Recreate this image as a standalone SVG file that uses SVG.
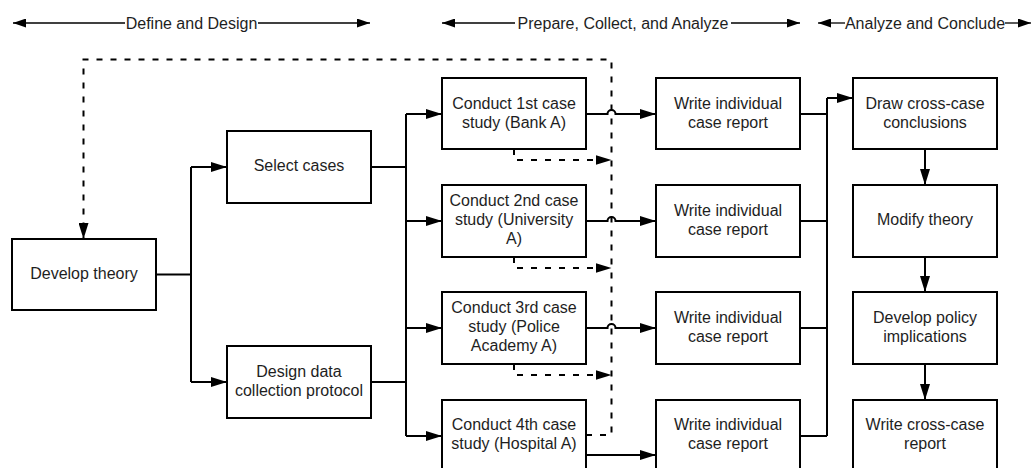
<svg xmlns="http://www.w3.org/2000/svg" width="1034" height="468" viewBox="0 0 1034 468">
<defs>
<marker id="ah" viewBox="0 0 16 10" refX="16" refY="5" markerUnits="userSpaceOnUse" markerWidth="16" markerHeight="10" orient="auto-start-reverse"><path d="M0,0 L16,5 L0,10 z" fill="#000" stroke="none"/></marker>
<marker id="hh" viewBox="0 0 13 9" refX="13" refY="4.5" markerUnits="userSpaceOnUse" markerWidth="13" markerHeight="9" orient="auto-start-reverse"><path d="M0,0 L13,4.5 L0,9 z" fill="#000" stroke="none"/></marker>
</defs>
<style>
.box{fill:#fff;stroke:#000;stroke-width:2}
.t{font-family:"Liberation Sans",Arial,sans-serif;font-size:16px;fill:#1e1e1e;text-anchor:middle}
.ln{fill:none;stroke:#000;stroke-width:2}
.dl{fill:none;stroke:#000;stroke-width:2;stroke-dasharray:6,8}
.hd{fill:none;stroke:#000;stroke-width:1.3}
</style>
<rect width="1034" height="468" fill="#fff"/>
<g id="headers">
<path class="hd" d="M125,23 H13" marker-end="url(#hh)"/>
<path class="hd" d="M258,23 H370" marker-end="url(#hh)"/>
<text class="t" x="191.5" y="28.5">Define and Design</text>
<path class="hd" d="M515,23 H442" marker-end="url(#hh)"/>
<path class="hd" d="M731,23 H800" marker-end="url(#hh)"/>
<text class="t" x="623" y="28.5">Prepare, Collect, and Analyze</text>
<path class="hd" d="M845,23 H818" marker-end="url(#hh)"/>
<path class="hd" d="M1005,23 H1031" marker-end="url(#hh)"/>
<text class="t" x="925" y="28.5">Analyze and Conclude</text>
</g>
<g id="connectors">
<path class="ln" d="M156,274.5 H191 M191,167 V382"/>
<path class="ln" d="M191,167 H227" marker-end="url(#ah)"/>
<path class="ln" d="M191,382 H227" marker-end="url(#ah)"/>
<path class="ln" d="M371,167 H406 M371,382 H406 M406,114 V436"/>
<path class="ln" d="M406,114 H442" marker-end="url(#ah)"/>
<path class="ln" d="M406,221 H442" marker-end="url(#ah)"/>
<path class="ln" d="M406,328 H442" marker-end="url(#ah)"/>
<path class="ln" d="M406,436 H442" marker-end="url(#ah)"/>
<path class="ln" d="M586,114 H607.5 A4,4 0 0 1 615.5,114 H656" marker-end="url(#ah)"/>
<path class="ln" d="M586,221 H607.5 A4,4 0 0 1 615.5,221 H656" marker-end="url(#ah)"/>
<path class="ln" d="M586,328 H607.5 A4,4 0 0 1 615.5,328 H656" marker-end="url(#ah)"/>
<path class="ln" d="M586,455 H656" marker-end="url(#ah)"/>
<path class="ln" d="M800,114 H827 M800,221 H827 M800,328 H827 M800,436 H827 M827,98 V436"/>
<path class="ln" d="M827,98 H853" marker-end="url(#ah)"/>
<path class="ln" d="M925,149 V185" marker-end="url(#ah)"/>
<path class="ln" d="M925,257 V292" marker-end="url(#ah)"/>
<path class="ln" d="M925,364 V400" marker-end="url(#ah)"/>
<path class="dl" d="M586,435 H611.5 V59.5 H83.5 V239" marker-end="url(#ah)"/>
<path class="dl" d="M514,149 V160 H611.5" marker-end="url(#ah)"/>
<path class="dl" d="M514,257 V268 H611.5" marker-end="url(#ah)"/>
<path class="dl" d="M514,364 V375 H611.5" marker-end="url(#ah)"/>
</g>
<g id="develop-theory"><rect class="box" x="12" y="239" width="144" height="71"/><text class="t" x="84" y="279">Develop theory</text></g>
<g id="select-cases"><rect class="box" x="227" y="131" width="144" height="72"/><text class="t" x="299" y="171">Select cases</text></g>
<g id="design-protocol"><rect class="box" x="227" y="346" width="144" height="72"/><text class="t" x="299" y="376.5">Design data</text><text class="t" x="299" y="395.5">collection protocol</text></g>
<g id="case1"><rect class="box" x="442" y="78" width="144" height="71"/><text class="t" x="514" y="108.5">Conduct 1st case</text><text class="t" x="514" y="127.5">study (Bank A)</text></g>
<g id="case2"><rect class="box" x="442" y="185" width="144" height="72"/><text class="t" x="514" y="206">Conduct 2nd case</text><text class="t" x="514" y="225">study (University</text><text class="t" x="514" y="244">A)</text></g>
<g id="case3"><rect class="box" x="442" y="292" width="144" height="72"/><text class="t" x="514" y="313">Conduct 3rd case</text><text class="t" x="514" y="332">study (Police</text><text class="t" x="514" y="351">Academy A)</text></g>
<g id="case4"><rect class="box" x="442" y="400" width="144" height="72"/><text class="t" x="514" y="430">Conduct 4th case</text><text class="t" x="514" y="449">study (Hospital A)</text></g>
<g id="report1"><rect class="box" x="656" y="78" width="144" height="71"/><text class="t" x="728" y="108.5">Write individual</text><text class="t" x="728" y="127.5">case report</text></g>
<g id="report2"><rect class="box" x="656" y="185" width="144" height="72"/><text class="t" x="728" y="215.5">Write individual</text><text class="t" x="728" y="234.5">case report</text></g>
<g id="report3"><rect class="box" x="656" y="292" width="144" height="72"/><text class="t" x="728" y="322.5">Write individual</text><text class="t" x="728" y="341.5">case report</text></g>
<g id="report4"><rect class="box" x="656" y="400" width="144" height="72"/><text class="t" x="728" y="430">Write individual</text><text class="t" x="728" y="449">case report</text></g>
<g id="draw-conclusions"><rect class="box" x="853" y="78" width="144" height="71"/><text class="t" x="925" y="108.5">Draw cross-case</text><text class="t" x="925" y="127.5">conclusions</text></g>
<g id="modify-theory"><rect class="box" x="853" y="185" width="144" height="72"/><text class="t" x="925" y="225">Modify theory</text></g>
<g id="policy"><rect class="box" x="853" y="292" width="144" height="72"/><text class="t" x="925" y="322.5">Develop policy</text><text class="t" x="925" y="341.5">implications</text></g>
<g id="cross-report"><rect class="box" x="853" y="400" width="144" height="72"/><text class="t" x="925" y="430">Write cross-case</text><text class="t" x="925" y="449">report</text></g>
</svg>
